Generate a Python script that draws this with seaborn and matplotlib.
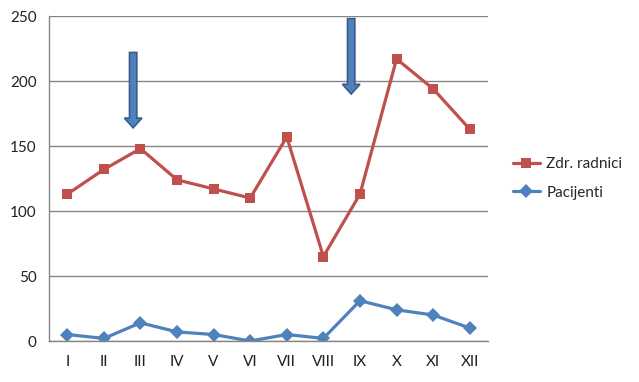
import pandas as pd
import numpy as np
import matplotlib.pyplot as plt
import seaborn as sns

months = ['I', 'II', 'III', 'IV', 'V', 'VI', 'VII', 'VIII', 'IX', 'X', 'XI', 'XII']
zdr_radnici = [113, 132, 148, 124, 117, 110, 157, 65, 113, 217, 194, 163]
pacijenti = [5, 2, 14, 7, 5, 0, 5, 2, 31, 24, 20, 10]
# arrows: (x position, top value, tip value)
arrows = [(1.8, 222, 164), (7.76, 248, 190)]

sns.set_style("white")
plt.rcParams['font.family'] = ['Lato', 'DejaVu Sans']

df = pd.DataFrame({
    'pos': list(range(len(months))) * 2,
    'value': zdr_radnici + pacijenti,
    'serie': ['Zdr. radnici'] * 12 + ['Pacijenti'] * 12,
})

fig = plt.figure(figsize=(6.39, 3.82), dpi=100)
ax = fig.add_axes([0.0767, 0.1073, 0.687, 0.8507])

colors = {'Zdr. radnici': '#C0504D', 'Pacijenti': '#4F81BD'}
markers = {'Zdr. radnici': 's', 'Pacijenti': 'D'}
sizes = {'Zdr. radnici': 7.5, 'Pacijenti': 7}
for name in ['Zdr. radnici', 'Pacijenti']:
    sub = df[df['serie'] == name]
    sns.lineplot(data=sub, x='pos', y='value', ax=ax, color=colors[name],
                 marker=markers[name], markersize=sizes[name], linewidth=2.3,
                 markeredgewidth=0, label=name)

for x, top, tip in arrows:
    ax.arrow(x, top, 0, tip - top, width=0.2, head_width=0.48, head_length=7.5,
             length_includes_head=True, facecolor='#4F81BD', edgecolor='#385D8A',
             linewidth=1.2, zorder=5)

ax.set_xlim(-0.5, 11.5)
ax.set_ylim(0, 250)
ax.set_yticks(range(0, 251, 50))
ax.set_xticks(range(12))
ax.set_xticklabels(months)
ax.set_xticks(np.arange(-0.5, 12, 1), minor=True)
ax.tick_params(axis='x', which='major', length=0, pad=10, labelsize=11, colors='#222222')
ax.tick_params(axis='x', which='minor', length=5, color='#868686', width=1, direction='out')
ax.tick_params(axis='y', length=5, width=1, direction='out', pad=4, labelsize=11,
               colors='#868686', labelcolor='#222222')
ax.grid(axis='y', color='#868686', linewidth=1)
ax.set_axisbelow(True)
for s in ['top', 'right']:
    ax.spines[s].set_visible(False)
for s in ['left', 'bottom']:
    ax.spines[s].set_color('#868686')
    ax.spines[s].set_linewidth(1)
ax.set_xlabel('')
ax.set_ylabel('')

ax.legend(loc='center left', bbox_to_anchor=(1.025, 0.5), frameon=False,
          fontsize=11, handlelength=1.8, labelspacing=0.95, handletextpad=0.4)

fig.savefig('out.png', dpi=100)
